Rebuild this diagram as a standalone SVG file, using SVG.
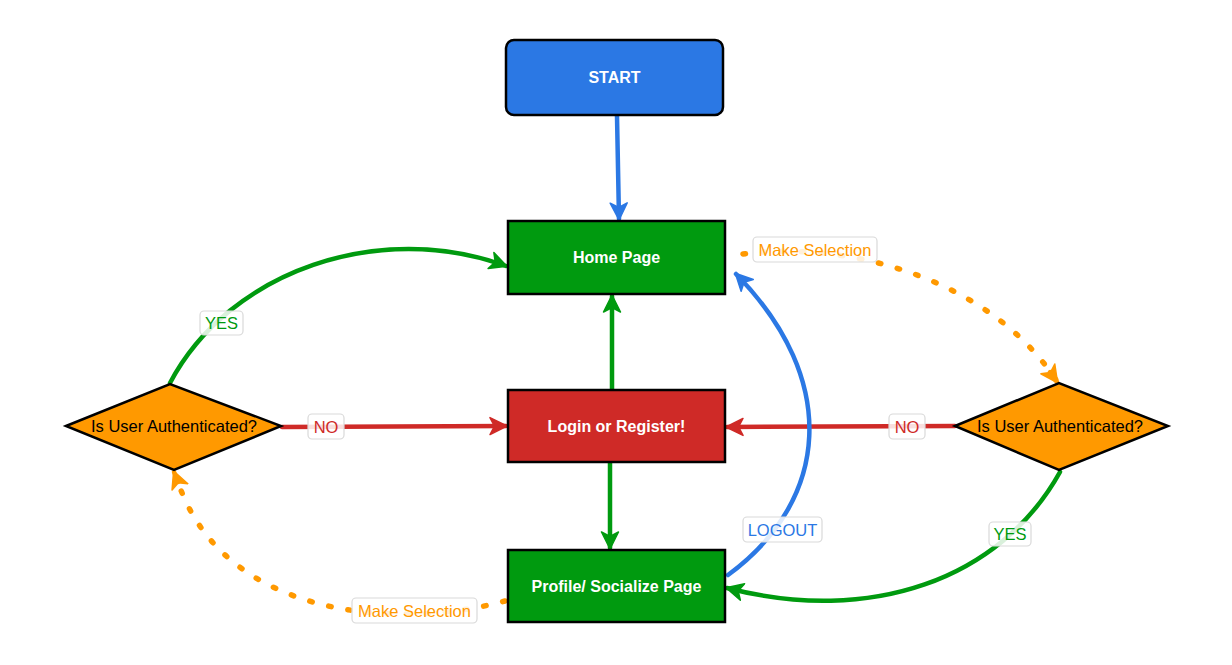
<svg xmlns="http://www.w3.org/2000/svg" width="1232" height="665" viewBox="0 0 1232 665">
<defs>
<style>
.node{stroke:#000;stroke-width:2.5}
.ntext{font-family:"Liberation Sans",Arial,sans-serif;font-size:16px;font-weight:bold;fill:#fff;text-anchor:middle;dominant-baseline:central}
.dtext{font-family:"Liberation Sans",Arial,sans-serif;font-size:16.5px;fill:#000;text-anchor:middle;dominant-baseline:central}
.conn{fill:none;stroke-width:4.5;stroke-linecap:round}
.dot{fill:none;stroke:#ff9900;stroke-width:5.5;stroke-linecap:round;stroke-dasharray:2.5 17}
.lbox{fill:#fff;fill-opacity:0.85;stroke:#d9d9d9;stroke-width:1.2}
.ltext{font-family:"Liberation Sans",Arial,sans-serif;font-size:16.5px;text-anchor:middle;dominant-baseline:central}
</style>
<marker id="aBlue" viewBox="0 0 20 20" refX="17" refY="10" markerWidth="20" markerHeight="20" markerUnits="userSpaceOnUse" orient="auto"><path d="M1,1.5 L18,10 L1,18.5 L5.5,10 z" fill="#2b78e4" stroke="#2b78e4" stroke-width="1.5" stroke-linejoin="round"/></marker>
<marker id="aGreen" viewBox="0 0 20 20" refX="17" refY="10" markerWidth="20" markerHeight="20" markerUnits="userSpaceOnUse" orient="auto"><path d="M1,1.5 L18,10 L1,18.5 L5.5,10 z" fill="#009a0f" stroke="#009a0f" stroke-width="1.5" stroke-linejoin="round"/></marker>
<marker id="aRed" viewBox="0 0 20 20" refX="17" refY="10" markerWidth="20" markerHeight="20" markerUnits="userSpaceOnUse" orient="auto"><path d="M1,1.5 L18,10 L1,18.5 L5.5,10 z" fill="#cf2a27" stroke="#cf2a27" stroke-width="1.5" stroke-linejoin="round"/></marker>
<marker id="aOrange" viewBox="0 0 20 20" refX="17" refY="10" markerWidth="20" markerHeight="20" markerUnits="userSpaceOnUse" orient="auto"><path d="M1,1.5 L18,10 L1,18.5 L5.5,10 z" fill="#ff9900" stroke="#ff9900" stroke-width="1.5" stroke-linejoin="round"/></marker>
</defs>
<rect width="1232" height="665" fill="#fff"/>

<g id="connectors">
<path class="conn" stroke="#2b78e4" d="M617,116 L619,219" marker-end="url(#aBlue)"/>
<path class="conn" stroke="#009a0f" d="M612,389 L612,296" marker-end="url(#aGreen)"/>
<path class="conn" stroke="#009a0f" d="M610,463 L610,548" marker-end="url(#aGreen)"/>
<path class="conn" stroke="#cf2a27" d="M282,427 L506,426" marker-end="url(#aRed)"/>
<path class="conn" stroke="#009a0f" d="M170,383 C230,270 380,220 506,266" marker-end="url(#aGreen)"/>
<path class="conn" stroke="#cf2a27" d="M955,426 L727,427" marker-end="url(#aRed)"/>
<path class="conn" stroke="#009a0f" d="M1060,472 C1000,580 870,625 727,588" marker-end="url(#aGreen)"/>
<path class="conn" stroke="#2b78e4" d="M728,575 C830,500 840,380 736,274" marker-end="url(#aBlue)"/>
<path class="dot" d="M743,254 C850,240 990,280 1056,380"/>
<path class="conn" stroke="#ff9900" d="M1050,372 L1057,382" marker-end="url(#aOrange)"/>
<path class="dot" d="M505,601 C400,630 220,620 176,476"/>
<path class="conn" stroke="#ff9900" d="M178,482 L174,472" marker-end="url(#aOrange)"/>

<g id="lbl-yes-left"><rect class="lbox" x="200" y="311" width="43" height="24" rx="4"/><text class="ltext" x="221.5" y="323" fill="#009a0f">YES</text></g>
<g id="lbl-no-left"><rect class="lbox" x="308" y="414" width="36" height="25" rx="4"/><text class="ltext" x="326" y="426.5" fill="#cf2a27">NO</text></g>
<g id="lbl-no-right"><rect class="lbox" x="889" y="414" width="36" height="25" rx="4"/><text class="ltext" x="907" y="426.5" fill="#cf2a27">NO</text></g>
<g id="lbl-logout"><rect class="lbox" x="743" y="517" width="79" height="25" rx="4"/><text class="ltext" x="782.5" y="529.5" fill="#2b78e4">LOGOUT</text></g>
<g id="lbl-yes-right"><rect class="lbox" x="989" y="522" width="42" height="24" rx="4"/><text class="ltext" x="1010" y="534" fill="#009a0f">YES</text></g>
<g id="lbl-ms-top"><rect class="lbox" x="753" y="237" width="124" height="25" rx="4"/><text class="ltext" x="815" y="249.5" fill="#ff9900">Make Selection</text></g>
<g id="lbl-ms-bottom"><rect class="lbox" x="352" y="598" width="125" height="25" rx="4"/><text class="ltext" x="414.5" y="610.5" fill="#ff9900">Make Selection</text></g>
</g>

<g id="start"><rect class="node" x="506" y="40" width="217" height="75" rx="8" fill="#2b78e4"/><text class="ntext" x="614.5" y="77">START</text></g>
<g id="home"><rect class="node" x="508" y="221" width="217" height="73" fill="#009a0f"/><text class="ntext" x="616.5" y="257">Home Page</text></g>
<g id="login"><rect class="node" x="508" y="390" width="217" height="72" fill="#cf2a27"/><text class="ntext" x="616.5" y="426">Login or Register!</text></g>
<g id="profile"><rect class="node" x="508" y="550" width="217" height="72" fill="#009a0f"/><text class="ntext" x="616.5" y="586">Profile/ Socialize Page</text></g>
<g id="auth-left"><polygon class="node" points="66,426 170,384 281,426 174,470" fill="#ff9900"/><text class="dtext" x="174" y="426">Is User Authenticated?</text></g>
<g id="auth-right"><polygon class="node" points="955,426 1059,383 1168,426 1059,470" fill="#ff9900"/><text class="dtext" x="1060" y="426">Is User Authenticated?</text></g>
</svg>
